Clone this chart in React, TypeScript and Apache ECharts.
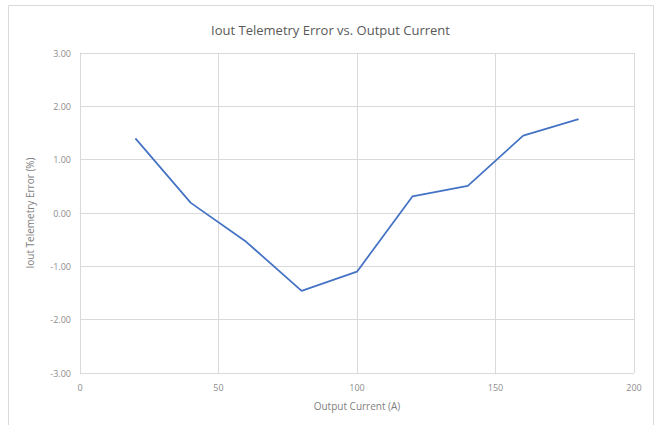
import React, { useEffect, useRef } from "react";
import * as echarts from "echarts";

const currents = [20, 40, 60, 80, 100, 120, 140, 160, 180];
const errors = [1.4, 0.19, -0.54, -1.46, -1.1, 0.31, 0.51, 1.45, 1.76];
const titleText = "Iout Telemetry Error vs. Output Current";
const xName = "Output Current (A)";
const yName = "Iout Telemetry Error (%)";

export default function App() {
  const ref = useRef<HTMLDivElement>(null);
  useEffect(() => {
    if (!ref.current) return;
    const chart = echarts.init(ref.current, null, { renderer: "svg" });
    const font = "Open Sans";
    chart.setOption({
      animation: false,
      backgroundColor: "#ffffff",
      textStyle: { fontFamily: font },
      title: {
        text: titleText,
        left: "center",
        top: 18,
        textStyle: { fontFamily: font, fontSize: 13, fontWeight: "normal", color: "#595959" },
      },
      graphic: [
        {
          type: "rect",
          shape: { x: 8.5, y: 5.5, width: 645, height: 430 },
          style: { fill: "none", stroke: "#d9d9d9", lineWidth: 1 },
          silent: true,
        },
      ],
      grid: { left: 80, right: 27, top: 53, bottom: 52 },
      xAxis: {
        type: "value",
        min: 0,
        max: 200,
        interval: 50,
        name: xName,
        nameLocation: "middle",
        nameGap: 28,
        nameTextStyle: { fontFamily: font, fontSize: 10, color: "#7f7f7f" },
        axisLine: { show: true, lineStyle: { color: "#d9d9d9" } },
        axisTick: { show: false },
        axisLabel: { fontFamily: font, fontSize: 9, color: "#8c8c8c", margin: 10 },
        splitLine: { show: true, lineStyle: { color: "#d9d9d9" } },
      },
      yAxis: {
        type: "value",
        min: -3,
        max: 3,
        interval: 1,
        name: yName,
        nameLocation: "middle",
        nameGap: 45,
        nameTextStyle: { fontFamily: font, fontSize: 10, color: "#7f7f7f" },
        axisLine: { show: true, lineStyle: { color: "#d9d9d9" } },
        axisTick: { show: false },
        axisLabel: {
          fontFamily: font,
          fontSize: 9,
          color: "#8c8c8c",
          margin: 9,
          formatter: (v: number) => v.toFixed(2),
        },
        splitLine: { show: true, lineStyle: { color: "#d9d9d9" } },
      },
      series: [
        {
          type: "line",
          data: currents.map((c, i) => [c, errors[i]]),
          showSymbol: false,
          lineStyle: { color: "#4472c4", width: 1.75 },
          itemStyle: { color: "#4472c4" },
        },
      ],
    });
    return () => chart.dispose();
  }, []);
  return (
    <div
      ref={ref}
      style={{ position: "fixed", left: 0, top: 0, width: 661, height: 425 }}
    />
  );
}
